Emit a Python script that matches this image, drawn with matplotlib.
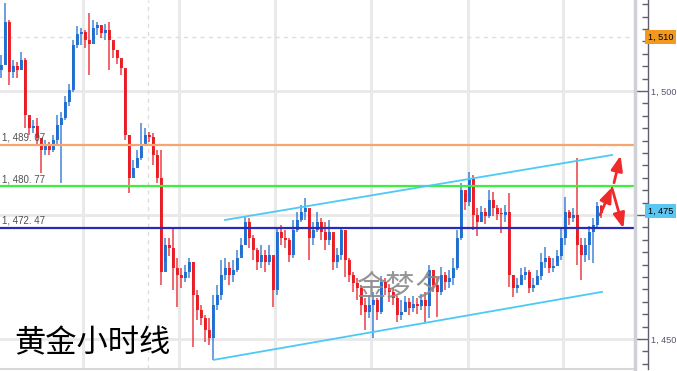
import numpy as np
import matplotlib
matplotlib.use("Agg")
import matplotlib.pyplot as plt
import matplotlib.transforms as mtransforms
from matplotlib.ticker import FixedLocator, MultipleLocator

plt.rcParams['font.family'] = ['Noto Sans CJK SC', 'DejaVu Sans']

# 黄金 1 小时K线
closes = [
    1505.2, 1513.9, 1503.8, 1505.0, 1504.2, 1506.3, 1495.2, 1492.5, 1493.0, 1490.5,
    1488.1, 1489.1, 1488.1, 1490.1, 1493.2, 1494.6, 1497.8, 1500.2, 1509.3, 1511.5,
    1511.9, 1510.3, 1509.5, 1512.7, 1513.3, 1511.7, 1512.3, 1510.3, 1508.3, 1506.7,
    1504.6, 1491.1, 1482.5, 1484.5, 1486.5, 1489.1, 1491.1, 1490.7, 1487.1, 1482.5,
    1463.5, 1469.0, 1468.4, 1464.3, 1462.9, 1462.3, 1463.5, 1465.5, 1458.9, 1455.9,
    1454.2, 1451.8, 1450.2, 1456.9, 1458.9, 1462.9, 1464.3, 1462.9, 1463.9, 1466.3,
    1469.0, 1473.6, 1470.4, 1468.0, 1465.5, 1467.0, 1465.5, 1467.0, 1459.9, 1471.6,
    1470.4, 1470.0, 1467.0, 1472.0, 1474.0, 1475.6, 1476.4, 1470.4, 1472.0, 1473.6,
    1471.6, 1470.0, 1471.6, 1465.5, 1467.0, 1472.0, 1465.9, 1462.9, 1461.3, 1460.3,
    1456.9, 1455.5, 1456.9, 1457.9, 1455.5, 1461.5, 1460.3, 1459.5, 1458.3, 1454.8,
    1455.5, 1457.5, 1456.3, 1457.1, 1456.7, 1457.9, 1456.7, 1463.9, 1460.9, 1459.5,
    1462.9, 1461.5, 1462.3, 1464.3, 1470.4, 1480.0, 1477.6, 1482.5, 1475.0, 1473.6,
    1475.6, 1474.8, 1478.0, 1476.4, 1475.2, 1475.0, 1475.6, 1462.9, 1460.3, 1460.9,
    1462.9, 1463.5, 1460.3, 1460.9, 1462.7, 1465.5, 1466.3, 1464.3, 1464.7, 1466.7,
    1470.4, 1475.6, 1474.4, 1475.0, 1469.0, 1467.0, 1469.0, 1471.6, 1473.0, 1476.8,
    1475.4,
]
highs = [
    1507.3, 1517.7, 1514.3, 1506.3, 1505.8, 1507.9, 1506.7, 1494.6, 1494.2, 1494.6,
    1490.5, 1490.1, 1489.7, 1491.1, 1495.2, 1495.8, 1499.0, 1501.4, 1510.3, 1513.1,
    1512.7, 1512.3, 1515.7, 1514.3, 1513.9, 1513.3, 1513.5, 1513.9, 1509.9, 1508.3,
    1506.3, 1504.2, 1491.1, 1486.1, 1488.1, 1493.6, 1492.5, 1491.7, 1491.5, 1488.1,
    1488.1, 1470.4, 1470.4, 1472.6, 1466.3, 1464.3, 1464.9, 1466.3, 1465.5, 1459.9,
    1456.9, 1454.8, 1454.2, 1458.9, 1460.9, 1465.9, 1466.3, 1465.5, 1465.9, 1468.0,
    1470.4, 1474.8, 1474.4, 1471.0, 1468.4, 1469.0, 1468.0, 1469.0, 1466.3, 1472.4,
    1473.0, 1472.0, 1470.4, 1474.0, 1475.6, 1477.0, 1478.4, 1476.0, 1473.6, 1475.6,
    1474.4, 1473.6, 1474.0, 1471.0, 1468.4, 1472.6, 1471.6, 1466.3, 1463.5, 1462.3,
    1460.9, 1458.3, 1458.9, 1459.5, 1458.3, 1462.7, 1462.3, 1461.1, 1460.3, 1458.7,
    1457.9, 1458.7, 1458.3, 1458.7, 1458.3, 1459.1, 1459.5, 1464.9, 1462.9, 1462.3,
    1464.5, 1463.5, 1463.9, 1466.3, 1472.0, 1481.5, 1479.4, 1483.7, 1483.1, 1476.4,
    1476.8, 1476.4, 1480.0, 1479.6, 1477.0, 1476.4, 1477.0, 1479.4, 1462.9, 1462.3,
    1464.3, 1464.5, 1463.9, 1462.3, 1463.9, 1467.3, 1468.6, 1466.7, 1466.3, 1468.0,
    1472.4, 1478.6, 1476.0, 1476.4, 1486.5, 1470.4, 1470.4, 1472.8, 1474.4, 1477.6,
    1477.0,
]
lows = [
    1502.6, 1505.4, 1501.2, 1502.6, 1502.6, 1504.2, 1492.5, 1491.1, 1491.5, 1489.1,
    1483.5, 1487.1, 1487.1, 1487.7, 1489.1, 1481.5, 1494.2, 1497.0, 1499.8, 1508.7,
    1509.3, 1508.7, 1503.2, 1510.3, 1511.3, 1510.7, 1510.3, 1504.2, 1506.7, 1505.4,
    1503.2, 1490.1, 1479.4, 1483.1, 1485.1, 1486.1, 1489.7, 1489.7, 1485.1, 1481.5,
    1460.9, 1465.5, 1466.7, 1459.9, 1456.5, 1460.3, 1461.5, 1462.3, 1448.4, 1453.8,
    1452.8, 1449.4, 1448.8, 1445.8, 1455.9, 1457.9, 1461.9, 1460.9, 1461.5, 1463.5,
    1467.0, 1469.0, 1468.4, 1465.9, 1463.9, 1464.3, 1463.5, 1464.9, 1456.5, 1458.9,
    1469.0, 1468.4, 1465.5, 1466.3, 1471.6, 1473.6, 1474.0, 1465.9, 1469.0, 1471.6,
    1470.0, 1468.0, 1469.0, 1463.9, 1464.3, 1465.9, 1462.5, 1461.5, 1459.5, 1457.9,
    1454.8, 1451.8, 1454.2, 1450.2, 1453.8, 1455.0, 1458.9, 1457.5, 1456.9, 1453.4,
    1453.8, 1455.5, 1454.8, 1455.5, 1455.0, 1455.9, 1453.4, 1454.2, 1459.5, 1454.4,
    1458.9, 1459.9, 1460.3, 1460.9, 1463.9, 1470.0, 1476.0, 1476.8, 1472.0, 1470.8,
    1473.6, 1473.2, 1474.4, 1474.8, 1474.0, 1471.4, 1473.6, 1460.5, 1458.5, 1459.3,
    1460.9, 1461.9, 1459.3, 1459.5, 1460.9, 1461.9, 1464.3, 1463.3, 1463.5, 1465.5,
    1465.9, 1469.0, 1473.0, 1473.6, 1464.9, 1461.9, 1465.5, 1465.9, 1465.3, 1472.4,
    1474.4,
]
first_open = 1504.2

# 水平线
level_prices = [1489.07, 1480.77, 1472.47]
level_labels = ['1, 489. 07', '1, 480. 77', '1, 472. 47']
level_colors = ['#f7a46e', '#3df03d', '#2a2ab8']

# 通道线 (K线序号, 价格)
upper_channel_x = [56.0, 152.75]
upper_channel_y = [1474.0, 1487.1]
lower_channel_x = [53.25, 150.25]
lower_channel_y = [1445.8, 1459.5]

# 预判箭头
arrows = [
    ((149.75, 1475.0), (152.75, 1480.6)),
    ((153.25, 1481.5), (154.9, 1487.0)),
    ((152.75, 1480.4), (155.6, 1472.3)),
]

marker_price = 1510.9
major_ticks = [1450, 1475, 1500]
tick_labels = ['1, 450', '', '1, 500']

W, H = 677, 371
lab_font = ['Liberation Sans', 'DejaVu Sans']
fig = plt.figure(figsize=(W / 100, H / 100), dpi=100)
ax = fig.add_axes([0, 2 / H, 635 / W, 369 / H])
ax.set_xlim(-0.25, 158.5)
ax.set_ylim(1443.95, 1518.35)

# 网格
for gx in [20.5, 44.5, 68.5, 92.5, 116.75, 140.5]:
    ax.axvline(gx, color='#e8e8e8', lw=2, zorder=0)
for gy in major_ticks:
    ax.axhline(gy, color='#e8e8e8', lw=2, zorder=0)
ax.axvline(36.75, color='#dddddd', lw=1, ls=(0, (3, 3)), zorder=0)
ax.axhline(marker_price, color='#dddddd', lw=1, ls=(0, (3, 3)), zorder=0)

# K线
closes_a = np.array(closes)
opens_a = np.concatenate([[first_open], closes_a[:-1]])
idx = np.arange(len(closes_a))
up = closes_a >= opens_a
col_up, col_dn = '#1769cf', '#e8141c'
colors = np.where(up, col_up, col_dn)
ax.vlines(idx, lows, highs, colors=colors, lw=1.2, alpha=0.75, zorder=2)
body = closes_a - opens_a
body = np.where(np.abs(body) < 0.3, 0.3, body)
ax.bar(idx, body, bottom=opens_a, width=0.75, color=colors, alpha=0.9,
       linewidth=0, zorder=3)

# 水平线与标签
for p, lab, c in zip(level_prices, level_labels, level_colors):
    ax.axhline(p, color=c, lw=1.6, zorder=4)
    ax.text(0.3, p + 0.45, lab, fontsize=7, color='#505050', family=lab_font,
            va='bottom', ha='left', zorder=5)

# 通道
ax.plot(upper_channel_x, upper_channel_y, color='#4ccaf5', lw=1.3, zorder=5)
ax.plot(lower_channel_x, lower_channel_y, color='#4ccaf5', lw=1.3, zorder=5)

for (x0, y0), (x1, y1) in arrows:
    ax.annotate('', xy=(x1, y1), xytext=(x0, y0),
                arrowprops=dict(arrowstyle='-|>,head_length=0.9,head_width=0.35',
                                color='#f02a2a', lw=2.0, shrinkA=0, shrinkB=0),
                zorder=6)

# 文字
ax.text(14 / 635, 1 - 343 / 369, '黄金小时线', transform=ax.transAxes,
        fontsize=22.5, color='black', va='center', ha='left', zorder=7)
ax.text(400 / 635, 1 - 288 / 369, '金梦夕', transform=ax.transAxes,
        fontsize=21, color='#8a8a8a', alpha=0.9, va='center', ha='center', zorder=7)

ax.set_xticks([])
ax.set_yticks([])
for s in ['top', 'left', 'right']:
    ax.spines[s].set_visible(False)
ax.spines['bottom'].set_color('#d8d8d8')
ax.spines['bottom'].set_linewidth(1.5)

# 右侧价格轴
ax2 = fig.add_axes([635 / W, 2 / H, 13 / W, 369 / H])
ax2.set_ylim(ax.get_ylim())
ax2.set_xticks([])
ax2.patch.set_alpha(0)
for s in ['top', 'bottom']:
    ax2.spines[s].set_visible(False)
ax2.spines['left'].set_color('#d0d0d8')
ax2.spines['left'].set_linewidth(2.5)
ax2.spines['right'].set_color('#606070')
ax2.spines['right'].set_linewidth(1.0)
ax2.yaxis.tick_right()
ax2.yaxis.set_major_locator(FixedLocator(major_ticks))
ax2.yaxis.set_minor_locator(MultipleLocator(2.5))
ax2.set_yticklabels(tick_labels, family=lab_font)
ax2.tick_params(axis='y', which='major', direction='in', length=9, width=1,
                color='#606070', labelsize=6.6, labelcolor='#555570', pad=2.5)
ax2.tick_params(axis='y', which='minor', direction='in', length=4, width=1,
                color='#606070')

tr = mtransforms.blended_transform_factory(ax2.transAxes, ax2.transData)
ax2.text(1.0, marker_price, '1, 510', transform=tr, fontsize=6.6, color='black',
         family=lab_font, va='center', ha='left',
         bbox=dict(boxstyle='square,pad=0.3', fc='#f39a1e', ec='none'),
         clip_on=False, zorder=8)
ax2.text(1.0, closes[-1] + 0.4, '1, 475', transform=tr, fontsize=6.6, color='black',
         family=lab_font, va='center', ha='left',
         bbox=dict(boxstyle='square,pad=0.3', fc='#5cc6f2', ec='none'),
         clip_on=False, zorder=8)

fig.savefig('out.png', dpi=100)
